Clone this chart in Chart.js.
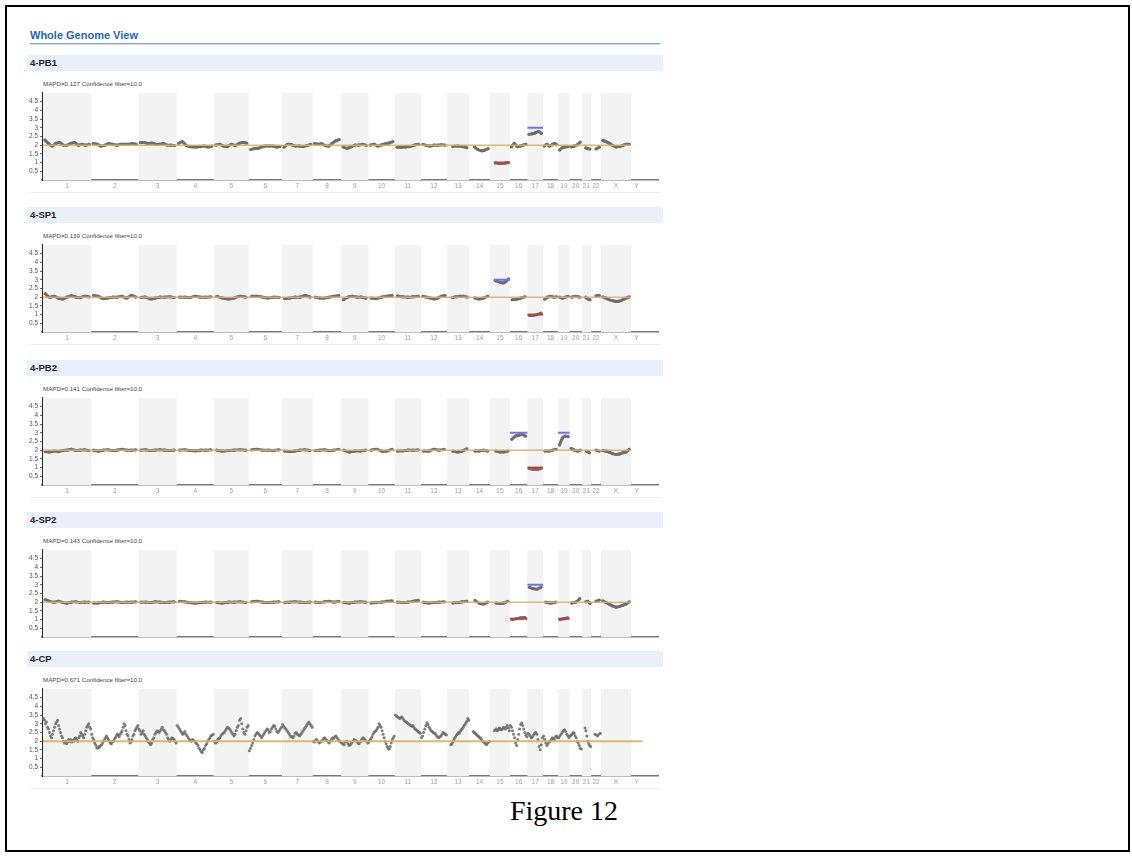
<!DOCTYPE html>
<html>
<head>
<meta charset="utf-8">
<title>Whole Genome View</title>
<script src="https://cdn.jsdelivr.net/npm/chart.js@4.4.1/dist/chart.umd.min.js"></script>
<style>
  body { margin: 0; background: #fff; font-family: "Liberation Sans", Arial, sans-serif; }
  #page { position: relative; width: 1132px; height: 856px; overflow: hidden; }
  #frame { position: absolute; left: 5px; top: 5px; width: 1121px; height: 843px; border: 2px solid #000; }
  #title { position: absolute; left: 30px; top: 29px; font-size: 11px; font-weight: bold; color: #2369b8; }
  #rule { position: absolute; left: 30px; top: 43px; width: 630px; height: 1px; background: #7fa7d2; border-bottom: 1px solid #c9dcee; }
  .head { position: absolute; left: 27px; width: 633px; height: 16px; background: #e9f0f9;
          font-size: 9.5px; font-weight: bold; line-height: 16px; padding-left: 3px; color: #222; }
  .mapd { position: absolute; left: 43px; font-size: 6.2px; color: #444; }
  .sep { position: absolute; left: 30px; width: 630px; height: 1px; background: #eeeeee; }
  canvas { position: absolute; left: 20px; }
  #caption { position: absolute; left: 0; width: 1128px; top: 795px; text-align: center;
             font-family: "Liberation Serif", "Times New Roman", serif; font-size: 28px; color: #000; }
</style>
</head>
<body>
<div id="page">
  <div id="frame"></div>
  <div id="title">Whole Genome View</div>
  <div id="rule"></div>
  <div id="caption">Figure 12</div>
</div>
<script>
// chromosomes and their lengths in Mb
const chromNames = ['1','2','3','4','5','6','7','8','9','10','11','12','13','14','15','16','17','18','19','20','21','22','X','Y'];
const chromLengths = [249,243,198,191,181,171,159,146,141,136,135,134,115,107,103,90,81,78,59,63,48,51,155,59];
// acrocentric chromosomes: probes only start after the short arm
const dataStart = { '13': 18, '14': 18, '15': 20, '21': 14, '22': 16 };
const yTicks = [0.5, 1, 1.5, 2, 2.5, 3, 3.5, 4, 4.5];

// copy number per chromosome, one list per chromosome
const pb1Values = [
  [2.3,2.1,1.95,2.1,2.15,2.0,2.0,2.1,2.15,2.0,2.05,2.0,2.05],
  [2.1,2.05,1.95,2.0,2.1,2.05,2.0,2.05,2.05,2.05,2.1,2.05],
  [2.15,2.15,2.1,2.12,2.05,2.05,2.1,2.0,2.0,1.98],
  [2.1,2.2,2.0,1.92,1.9,1.9,1.92,1.95,1.9,1.95],
  [2.0,2.05,1.95,1.92,2.05,1.98,2.1,2.15,2.12],
  [1.75,1.8,1.82,1.9,1.95,1.95,1.95,1.9,1.92],
  [1.88,2.05,2.02,1.95,1.95,1.92,1.98,2.05],
  [2.1,2.05,2.08,1.98,1.95,2.1,2.25,2.32],
  [1.9,1.82,1.9,2.0,2.0,2.05,1.98],
  [2.0,2.05,1.95,2.02,2.08,2.12,2.2],
  [1.88,1.88,1.9,1.92,2.0,2.05],
  [2.05,1.98,1.95,2.0,2.0,2.02,2.0],
  [1.92,1.95,1.92,1.85],
  [1.9,1.75,1.68,1.72,1.8],
  [0.98,0.95,0.95,0.97,1.0],
  [1.9,2.1,1.92,1.95,2.0,2.05],
  [2.62,2.65,2.7,2.78,2.68],
  [1.95,2.05,1.95,2.02,2.1,2.02],
  [1.72,1.85,1.9,1.92],
  [1.9,1.95,2.02,2.18],
  [1.85,1.8,1.78],
  [1.78,1.88],
  [2.28,2.2,2.1,1.98,1.9,1.92,1.98,2.05,2.05],
  []
];
const sp1Values = [
  [2.2,2.0,2.05,1.95,1.9,2.0,2.08,2.0,1.98,2.05,2.02],
  [2.1,2.05,1.92,1.95,2.0,2.0,2.05,1.95,2.1,2.0],
  [1.98,2.0,1.9,1.95,2.0,2.0,2.02,1.98],
  [2.0,2.0,1.98,2.05,2.0,2.0,2.02],
  [2.05,1.95,1.9,1.95,2.05,2.0],
  [2.05,2.05,2.0,1.95,2.0,1.98],
  [1.92,1.95,2.0,2.0,2.1,2.0],
  [2.0,1.95,1.95,2.0,2.05,2.1],
  [1.85,2.0,2.05,2.0,2.0,1.95],
  [1.95,1.92,2.0,2.05,2.1],
  [2.08,2.02,2.0,2.02,2.05],
  [2.05,2.0,1.95,1.9,1.95,2.05,2.1],
  [1.98,2.02,2.05,2.05,2.0],
  [1.95,1.9,1.95,2.05],
  [2.95,2.9,2.85,2.82,2.9,3.05],
  [1.85,1.88,1.95,2.02],
  [0.95,0.95,1.0,1.08],
  [1.88,2.0,2.05,2.0,2.02],
  [2.0,1.95,2.0,2.05],
  [2.0,2.05,2.0],
  [2.0,1.9,1.85],
  [2.08,2.1],
  [2.02,1.95,1.85,1.8,1.75,1.78,1.85,1.95,2.02],
  []
];
const pb2Values = [
  [1.92,1.9,1.95,1.92,1.98,2.0,2.05,1.98,2.0,2.02,1.98],
  [2.0,1.95,2.0,2.02,1.98,2.0,2.05,2.0,2.0,2.02],
  [2.0,2.02,1.98,2.0,2.02,2.0,1.98,2.0],
  [2.0,2.02,1.98,1.96,2.0,2.0,2.02],
  [2.0,1.95,1.98,2.0,2.02,2.0],
  [2.02,2.05,2.0,2.0,1.98,2.02],
  [1.95,1.92,1.95,2.0,2.02,1.98],
  [1.98,2.0,2.02,1.98,2.0,2.05],
  [2.0,1.9,1.95,1.95,2.0],
  [2.0,2.05,1.95,1.95,2.05],
  [1.95,1.96,2.0,2.0,2.02],
  [1.95,1.95,2.05,2.0,2.05],
  [1.95,1.9,1.95,2.08],
  [1.95,1.95,2.0,1.95],
  [1.95,1.9,1.9,1.95],
  [2.62,2.8,2.85,2.9,2.8],
  [0.95,0.9,0.9,0.95],
  [1.95,1.95,2.0,2.05],
  [2.3,2.7,2.8,2.78],
  [2.1,2.0,1.95,2.0],
  [1.95,1.85],
  [2.0,1.95],
  [1.98,1.95,1.88,1.8,1.75,1.78,1.85,1.9,2.05],
  []
];
const sp2Values = [
  [2.15,2.05,2.0,2.05,1.98,1.95,2.0,2.02,1.98,2.0,2.0],
  [1.95,1.95,2.0,1.98,2.0,2.02,1.98,2.0,2.0,2.02],
  [2.0,2.0,1.98,2.02,2.0,1.98,2.0,2.02],
  [2.05,2.02,1.98,1.95,1.98,2.0,2.0],
  [1.98,1.95,2.0,2.0,2.02,1.98],
  [2.02,2.05,2.0,1.98,2.0,2.02],
  [1.98,2.0,2.02,2.0,1.98,2.0],
  [2.0,1.98,2.02,2.05,2.0,2.05],
  [1.98,1.95,2.0,2.02,2.0],
  [1.95,1.98,2.0,2.05,2.08],
  [2.0,1.98,2.0,2.05,2.1],
  [2.0,1.95,1.98,2.0,2.02],
  [1.95,1.98,2.02,2.05],
  [2.1,1.95,1.9,2.0],
  [1.95,1.92,1.95,2.05],
  [1.0,1.05,1.1,1.12],
  [2.85,2.78,2.75,2.85],
  [2.0,1.95,2.0],
  [1.0,1.05,1.1],
  [1.95,2.0,2.2],
  [2.02,2.05,1.92],
  [2.05,2.12],
  [2.08,1.98,1.88,1.78,1.72,1.75,1.82,1.9,2.02],
  []
];
const cpValues = [
  [3.3,3.2,3.0,3.1,2.8,2.7,2.5,2.3,2.2,2.4,2.6,2.8,3.0,3.1,3.2,2.9,2.7,2.5,2.3,2.2,2.0,1.9,2.0,1.85,1.95,2.1,2.0,2.1,1.95,2.05,2.0,2.15,2.2,2.1,2.0,2.2,2.3,2.5,2.4,2.3,2.2,2.4,2.6,2.8,2.9,3.0,2.8,2.7],
  [2.4,2.2,2.1,1.9,1.8,1.65,1.6,1.7,1.65,1.75,1.8,1.9,2.0,2.1,2.2,2.3,2.2,2.1,2.0,1.9,1.85,1.95,2.0,2.1,2.2,2.3,2.4,2.35,2.25,2.4,2.5,2.6,2.8,3.0,2.9,2.6,2.4,2.3,2.1,1.9,1.95,2.1,2.3,2.4,2.6,2.7,2.8,2.9],
  [2.7,2.6,2.4,2.5,2.6,2.4,2.3,2.2,2.1,1.95,1.9,1.8,1.9,2.1,2.2,2.4,2.5,2.6,2.55,2.5,2.6,2.7,2.8,2.65,2.6,2.5,2.4,2.2,2.1,2.0,2.1,2.2,2.15,2.1,2.0,1.9],
  [2.9,2.8,2.7,2.6,2.5,2.4,2.45,2.55,2.4,2.3,2.2,2.1,2.05,2.0,2.1,2.05,2.0,1.9,1.85,1.75,1.6,1.5,1.4,1.35,1.5,1.6,1.75,1.85,2.0,2.1,2.2,2.3,2.35,2.4],
  [2.0,1.9,1.95,2.1,2.15,2.2,2.3,2.4,2.45,2.5,2.6,2.7,2.8,2.75,2.7,2.6,2.5,2.4,2.3,2.4,2.6,2.8,2.9,3.2,3.3,3.0,2.7,2.5,2.4,2.6,2.8,2.9],
  [1.45,1.6,1.75,1.9,2.1,2.3,2.4,2.5,2.45,2.35,2.3,2.2,2.3,2.4,2.5,2.6,2.7,2.65,2.5,2.55,2.7,2.8,2.9,2.85,2.7,2.55,2.5,2.6,2.7,2.8],
  [2.95,2.85,2.75,2.7,2.6,2.5,2.4,2.3,2.25,2.2,2.3,2.45,2.5,2.4,2.35,2.3,2.4,2.5,2.6,2.7,2.8,2.9,3.0,3.1,3.0,2.9,2.8],
  [2.0,1.95,2.05,2.1,2.0,1.9,1.95,2.0,2.05,2.15,2.2,2.1,2.05,1.95,1.9,2.0,2.1,2.2,2.15,2.25,2.3,2.2,2.1,2.0,1.95],
  [1.9,1.85,1.8,1.95,2.0,1.85,1.75,1.8,1.9,2.0,2.1,2.05,2.0,1.9,1.85,1.95,2.1,2.2,2.15,2.05,2.0,1.9],
  [1.95,2.05,2.15,2.25,2.4,2.5,2.55,2.6,2.7,2.8,3.0,2.9,2.8,2.6,2.4,2.2,2.0,1.85,1.7,1.6,1.55,1.7,1.9,2.1,2.2,2.3],
  [3.5,3.45,3.4,3.35,3.3,3.35,3.4,3.3,3.2,3.15,3.1,3.05,3.0,2.95,2.9,2.85,2.9,2.8,2.7,2.65,2.6,2.55,2.5,2.45],
  [2.2,2.3,2.5,2.7,2.9,3.05,2.95,2.8,2.7,2.6,2.55,2.5,2.45,2.4,2.3,2.25,2.2,2.25,2.3,2.4,2.5,2.45,2.4,2.35],
  [1.8,1.85,1.95,2.05,2.15,2.25,2.35,2.4,2.5,2.45,2.55,2.65,2.7,2.8,2.9,2.95,3.05,3.15,3.3,3.2],
  [2.55,2.5,2.45,2.4,2.35,2.3,2.25,2.2,2.15,2.05,2.0,1.95,1.9,1.85,1.8,1.9,1.95,2.0],
  [2.6,2.65,2.7,2.6,2.65,2.75,2.7,2.65,2.7,2.8,2.75,2.7,2.8,2.9,2.75,2.6],
  [2.9,2.8,2.6,2.4,2.2,1.9,1.75,2.1,2.4,2.7,2.95,3.05,2.9,2.7,2.5,2.35,2.25],
  [2.45,2.4,2.3,2.2,2.25,2.35,2.45,2.5,2.4,2.1,1.7,1.5,1.8,2.2],
  [2.3,2.1,1.9,1.75,1.85,1.95,2.0,2.1,2.2,2.15,2.1,2.25,2.3,2.2],
  [2.2,2.3,2.4,2.5,2.6,2.65,2.55,2.4,2.3,2.2],
  [2.3,2.35,2.4,2.5,2.45,2.3,2.2,2.0,1.9,1.75,1.6,1.55],
  [2.75,2.6,2.3,2.0,1.85,1.75,1.7],
  [2.4,2.35,2.3,2.4,2.45],
  [],
  []
];

// segment calls: [chromosome, copy number, from Mb, to Mb]
const pb1Calls = [['15', 1, 20, 103], ['17', 3, 0, 81]];
const sp1Calls = [['15', 3, 20, 103], ['17', 1, 0, 81]];
const pb2Calls = [['16', 3, 0, 90], ['17', 1, 0, 81], ['19', 3, 0, 59]];
const sp2Calls = [['16', 1.05, 0, 90], ['17', 3, 0, 81], ['19', 1.05, 0, 59]];
const cpCalls = [];

const panels = [
  { name: '4-PB1', mapd: 'MAPD=0.127 Confidence filter=10.0', values: pb1Values, calls: pb1Calls, top: 55, refTo: 'X', labels: true, scatter: false },
  { name: '4-SP1', mapd: 'MAPD=0.139 Confidence filter=10.0', values: sp1Values, calls: sp1Calls, top: 207, refTo: 'X', labels: true, scatter: false },
  { name: '4-PB2', mapd: 'MAPD=0.141 Confidence filter=10.0', values: pb2Values, calls: pb2Calls, top: 360, refTo: 'X', labels: true, scatter: false },
  { name: '4-SP2', mapd: 'MAPD=0.143 Confidence filter=10.0', values: sp2Values, calls: sp2Calls, top: 512, refTo: 'X', labels: false, scatter: false },
  { name: '4-CP', mapd: 'MAPD=0.671 Confidence filter=10.0', values: cpValues, calls: cpCalls, top: 651, refTo: 'Y', labels: true, scatter: true }
];

// cumulative genome offsets
const offsets = [];
chromLengths.reduce((acc, len) => { offsets.push(acc); return acc + len; }, 0);
const centers = chromLengths.map((len, i) => offsets[i] + len / 2);

function seriesPoints(values) {
  const pts = [];
  values.forEach((vals, c) => {
    if (!vals.length) return;
    const from = offsets[c] + (dataStart[chromNames[c]] || 0);
    const to = offsets[c] + chromLengths[c];
    vals.forEach((v, i) => pts.push({ x: from + (i + 0.5) / vals.length * (to - from), y: v }));
    pts.push({ x: to, y: null });
  });
  return pts;
}

function callPoints(calls, gain) {
  const pts = [];
  calls.filter(c => (c[1] > 2) === gain).forEach(([chr, cn, a, b]) => {
    const off = offsets[chromNames.indexOf(chr)];
    pts.push({ x: off + a, y: cn }, { x: off + b, y: cn }, { x: off + b, y: null });
  });
  return pts;
}

// alternating grey chromosome bands
const bandPlugin = {
  id: 'bands',
  beforeDatasetsDraw(chart) {
    const { ctx, chartArea, scales } = chart;
    ctx.save();
    ctx.fillStyle = '#f3f3f3';
    chromNames.forEach((name, i) => {
      if (i % 2 !== 0) return;
      const x1 = scales.x.getPixelForValue(offsets[i]);
      const x2 = scales.x.getPixelForValue(offsets[i] + chromLengths[i]);
      ctx.fillRect(x1, chartArea.top, x2 - x1, chartArea.bottom - chartArea.top);
    });
    ctx.restore();
  }
};

const page = document.getElementById('page');

panels.forEach(p => {
  const head = document.createElement('div');
  head.className = 'head';
  head.style.top = p.top + 'px';
  head.textContent = p.name;
  page.appendChild(head);

  const mapd = document.createElement('div');
  mapd.className = 'mapd';
  mapd.style.top = (p.top + 25) + 'px';
  mapd.textContent = p.mapd;
  page.appendChild(mapd);

  if (p.labels) {
    const sep = document.createElement('div');
    sep.className = 'sep';
    sep.style.top = (p.top + 137) + 'px';
    page.appendChild(sep);
  }

  const canvas = document.createElement('canvas');
  canvas.width = 650;
  canvas.height = 105;
  canvas.style.top = (p.top + 32) + 'px';
  page.appendChild(canvas);

  const refIdx = chromNames.indexOf(p.refTo);
  const refEnd = offsets[refIdx] + chromLengths[refIdx];

  new Chart(canvas.getContext('2d'), {
    type: 'line',
    data: {
      datasets: [
        {
          data: callPoints(p.calls, true),
          borderColor: 'rgb(112,112,238)', borderWidth: 2, pointRadius: 0, spanGaps: false
        },
        {
          data: callPoints(p.calls, false),
          borderColor: 'rgb(188,62,62)', borderWidth: 2, pointRadius: 0, spanGaps: false
        },
        {
          data: [{ x: 0, y: 2 }, { x: refEnd, y: 2 }],
          borderColor: 'rgba(214,180,96,0.9)', borderWidth: p.scatter ? 2 : 1.5, pointRadius: 0
        },
        {
          data: seriesPoints(p.values),
          borderColor: '#6e6e6e',
          backgroundColor: p.scatter ? 'rgba(105,105,105,0.85)' : '#6e6e6e',
          borderWidth: p.scatter ? 0 : 3,
          showLine: !p.scatter,
          tension: 0.35,
          pointRadius: p.scatter ? 1.5 : 1.6,
          pointBorderWidth: 0,
          spanGaps: false
        }
      ]
    },
    options: {
      responsive: false,
      animation: false,
      events: [],
      layout: { padding: { left: 0, right: 12, top: 4, bottom: 0 } },
      plugins: { legend: { display: false }, tooltip: { enabled: false } },
      scales: {
        x: {
          type: 'linear',
          min: -5,
          max: 3173,
          afterBuildTicks: axis => { axis.ticks = centers.map(v => ({ value: v })); },
          afterFit: axis => { axis.height = 12; },
          grid: { display: false, drawTicks: false },
          border: { display: true, color: '#7a7a7a', width: 1.5 },
          ticks: {
            display: p.labels,
            autoSkip: false,
            maxRotation: 0,
            padding: 2,
            color: '#a0a0a0',
            font: { size: 6.5 },
            callback: (v, i) => chromNames[i]
          }
        },
        y: {
          min: 0,
          max: 5,
          afterBuildTicks: axis => { axis.ticks = yTicks.map(v => ({ value: v })); },
          afterFit: axis => { axis.width = 22; },
          grid: { drawOnChartArea: false, drawTicks: true, tickLength: 2, color: '#666' },
          border: { display: true, color: '#222', width: 1 },
          ticks: { padding: 2, color: '#555', font: { size: 6.5 }, callback: v => v }
        }
      }
    },
    plugins: [bandPlugin]
  });
});
</script>
</body>
</html>
